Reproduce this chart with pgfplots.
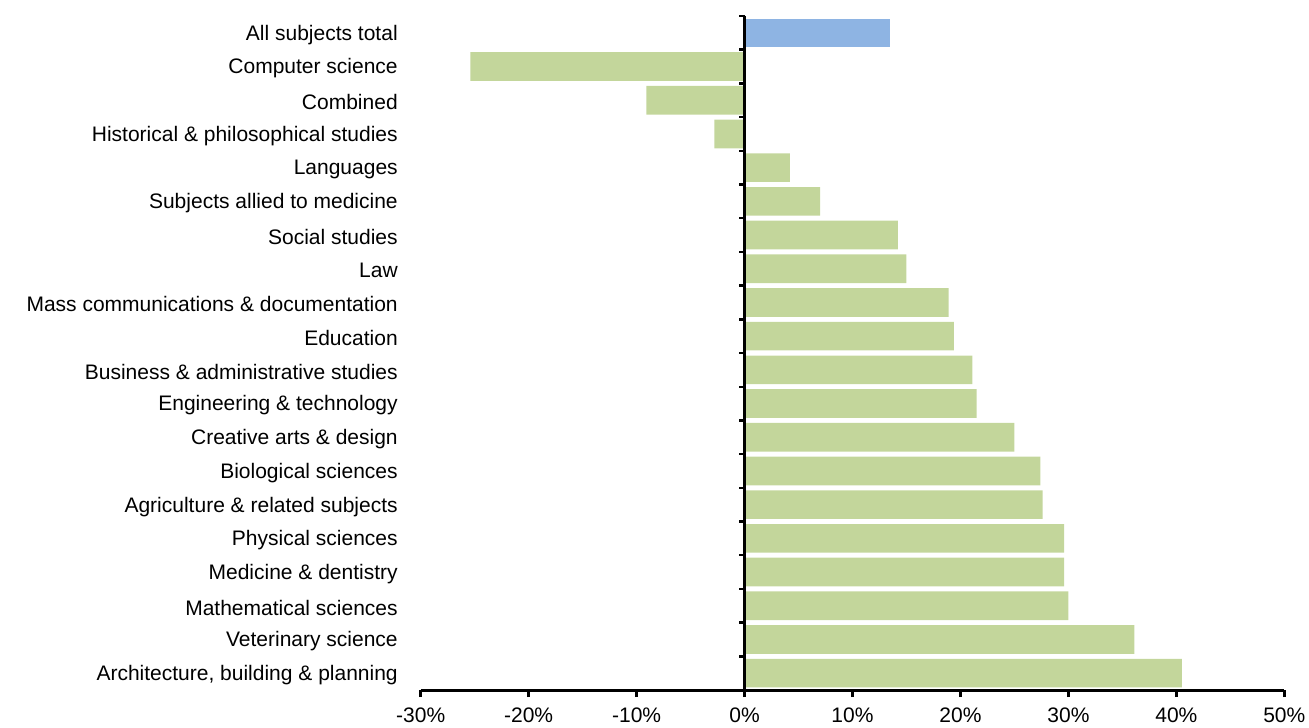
\documentclass[border=0pt]{standalone}
\usepackage{pgfplots}
\pgfplotsset{compat=1.18}
\usepackage{fontspec}
\setmainfont{Liberation Sans}
\definecolor{barblue}{HTML}{8EB4E3}
\definecolor{bargreen}{HTML}{C3D69B}
\begin{document}
\fontsize{10.5}{12}\selectfont
\begin{tikzpicture}
\path[use as bounding box] (0,0) rectangle (654.5pt,363.5pt);
\begin{axis}[
    at={(210.35pt,18.5pt)}, anchor=south west,
    scale only axis, width=431.8pt, height=337pt,
    xbar, bar shift=0pt, bar width=0.85,
    y dir=reverse,
    xmin=-30, xmax=50, ymin=-0.5, ymax=19.5,
    axis x line*=bottom, axis y line*=left,
    x axis line style={line width=1.5pt, -},
    y axis line style={draw=none},
    xtick={-30,-20,...,50},
    xticklabels={-30\%,-20\%,-10\%,0\%,10\%,20\%,30\%,40\%,50\%},
    xtick style={line width=1.5pt, black},
    tick align=outside, major tick length=3.5pt,
    xticklabel style={yshift=-1.5pt, font=\fontsize{10.5}{12}\selectfont},
    ytick={0,...,19},
    ytick style={draw=none},
    yticklabels={All subjects total, Computer science, Combined,
        Historical \& philosophical studies, Languages,
        Subjects allied to medicine, Social studies, Law,
        Mass communications \& documentation, Education,
        Business \& administrative studies, Engineering \& technology,
        Creative arts \& design, Biological sciences,
        Agriculture \& related subjects, Physical sciences,
        Medicine \& dentistry, Mathematical sciences,
        Veterinary science, {Architecture, building \& planning}},
    yticklabel style={xshift=-4.3pt, yshift=-1pt, font=\fontsize{10.5}{12}\selectfont},
    clip=false,
]
\addplot[draw=none, fill=barblue] coordinates {(13.5,0)};
\addplot[draw=none, fill=bargreen] coordinates {
    (-25.4,1) (-9.1,2) (-2.8,3) (4.2,4) (7.0,5) (14.2,6) (15.0,7)
    (18.9,8) (19.4,9) (21.1,10) (21.5,11) (25.0,12) (27.4,13)
    (27.6,14) (29.6,15) (29.6,16) (30.0,17) (36.1,18) (40.5,19)};
\draw[line width=1.5pt] (axis cs:0,-0.5) -- (axis cs:0,19.5);
\pgfplotsinvokeforeach{0,...,19}{
    \draw[line width=1.2pt] (axis cs:0,#1-0.5) -- ++(-3pt,0pt);
}
\end{axis}
\end{tikzpicture}
\end{document}
